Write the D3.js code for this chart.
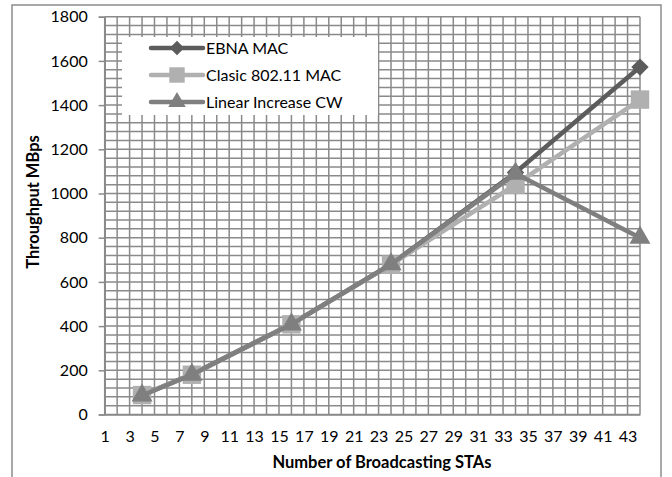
<!DOCTYPE html>
<html>
<head>
<meta charset="utf-8">
<script src="https://cdn.jsdelivr.net/npm/d3@7"></script>
<style>
  body { margin: 0; background: #fff; }
  text { font-family: Lato, "Open Sans", sans-serif; fill: #000; }
</style>
</head>
<body>
<script>
// chart values
var categories = d3.range(1, 45);          // x axis categories 1..44
var stations = [4, 8, 16, 24, 34, 44];
var ebna = [88, 182, 410, 680, 1095, 1572];
var clasic = [88, 180, 408, 678, 1040, 1425];
var linearCW = [86, 180, 408, 680, 1090, 800];
var seriesNames = ["EBNA MAC", "Clasic 802.11 MAC", "Linear Increase CW"];
var yTicks = [0, 200, 400, 600, 800, 1000, 1200, 1400, 1600, 1800];

var W = 672, H = 477;
var plotL = 104.7, plotR = 640, plotT = 16.7, plotB = 414.5;

var svg = d3.select("body").append("svg")
  .attr("width", W).attr("height", H);

// outer frame
svg.append("rect")
  .attr("x", 12).attr("y", 5)
  .attr("width", 649).attr("height", 480)
  .attr("fill", "#fff").attr("stroke", "#8c8c8c").attr("stroke-width", 1.5);

var x = d3.scalePoint().domain(categories).range([plotL, plotR]).padding(0);
var y = d3.scaleLinear().domain([0, 1800]).range([plotB, plotT]);

var grid = svg.append("g").attr("stroke", "#8a8a8a").attr("stroke-width", 1.5);

// horizontal grid every 40
grid.selectAll("line.h")
  .data(d3.range(0, 1801, 40))
  .enter().append("line")
  .attr("x1", plotL).attr("x2", plotR)
  .attr("y1", function(d) { return y(d); })
  .attr("y2", function(d) { return y(d); });

// vertical grid at each category
grid.selectAll("line.v")
  .data(categories)
  .enter().append("line")
  .attr("x1", function(d) { return x(d); })
  .attr("x2", function(d) { return x(d); })
  .attr("y1", plotT).attr("y2", plotB);

// y axis
var yAxis = d3.axisLeft(y).tickValues(yTicks).tickFormat(d3.format("d"))
  .tickSize(6).tickPadding(11);
var gy = svg.append("g").attr("transform", "translate(" + plotL + ",0)").call(yAxis);
gy.select(".domain").attr("stroke", "#8a8a8a").attr("stroke-width", 1.5);
gy.selectAll(".tick line").attr("stroke", "#8a8a8a").attr("stroke-width", 1.5);
gy.selectAll(".tick text").style("font-size", "16px").attr("fill", "#000");

// x axis
var xAxis = d3.axisBottom(x)
  .tickValues(categories.filter(function(d) { return d % 2 === 1; }))
  .tickSize(0).tickPadding(16);
var gx = svg.append("g").attr("transform", "translate(0," + plotB + ")").call(xAxis);
gx.select(".domain").attr("stroke", "#8a8a8a").attr("stroke-width", 1.5);
gx.selectAll(".tick text").style("font-size", "16px").attr("fill", "#000");

// axis titles
svg.append("text")
  .attr("transform", "translate(39,202) rotate(-90)")
  .attr("text-anchor", "middle")
  .style("font-size", "16.5px").style("font-weight", "bold")
  .text("Throughput MBps");

svg.append("text")
  .attr("x", 382).attr("y", 468)
  .attr("text-anchor", "middle")
  .style("font-size", "16.5px").style("font-weight", "bold")
  .text("Number of Broadcasting STAs");

var diamond = d3.symbol().type(d3.symbolSquare).size(150);
var square = d3.symbol().type(d3.symbolSquare).size(340);
var triangle = d3.symbol().type(d3.symbolTriangle).size(190);

var series = [
  { name: seriesNames[0], values: ebna, color: "#5c5c5c", sym: diamond, rot: 45 },
  { name: seriesNames[1], values: clasic, color: "#b0b0b0", sym: square, rot: 0 },
  { name: seriesNames[2], values: linearCW, color: "#7f7f7f", sym: triangle, rot: 0 }
];

var line = d3.line()
  .x(function(d) { return x(d[0]); })
  .y(function(d) { return y(d[1]); });

series.forEach(function(s) {
  var pts = stations.map(function(st, i) { return [st, s.values[i]]; });
  var g = svg.append("g");
  g.append("path")
    .attr("d", line(pts))
    .attr("fill", "none").attr("stroke", s.color)
    .attr("stroke-width", 4.5).attr("stroke-linejoin", "round");
  g.selectAll("path.m")
    .data(pts)
    .enter().append("path")
    .attr("d", s.sym())
    .attr("transform", function(d) {
      return "translate(" + x(d[0]) + "," + y(d[1]) + ") rotate(" + s.rot + ")";
    })
    .attr("fill", s.color);
});

// legend
var lg = svg.append("g");
lg.append("rect")
  .attr("x", 122).attr("y", 37).attr("width", 256).attr("height", 78)
  .attr("fill", "#fff");

series.forEach(function(s, i) {
  var ly = 48 + i * 27;
  lg.append("line")
    .attr("x1", 151).attr("x2", 203).attr("y1", ly).attr("y2", ly)
    .attr("stroke", s.color).attr("stroke-width", 4.5).attr("stroke-linecap", "round");
  lg.append("path")
    .attr("d", s.sym.size(s.sym.size()() * 0.7)())
    .attr("transform", "translate(177," + ly + ") rotate(" + s.rot + ")")
    .attr("fill", s.color);
  lg.append("text")
    .attr("x", 206).attr("y", ly).attr("dy", "0.35em")
    .style("font-size", "16px")
    .text(s.name);
});
</script>
</body>
</html>
